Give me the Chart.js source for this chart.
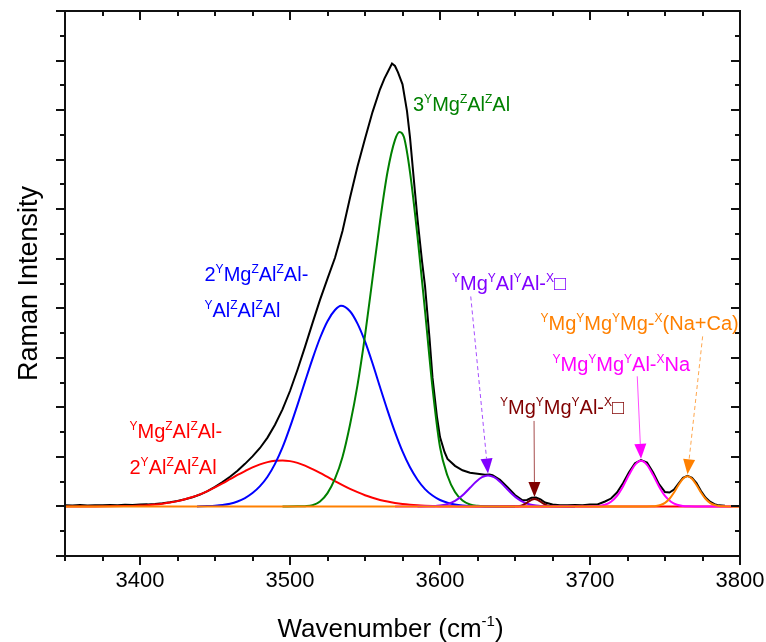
<!DOCTYPE html>
<html>
<head>
<meta charset="utf-8">
<script src="https://cdn.jsdelivr.net/npm/chart.js@4.4.1/dist/chart.umd.min.js"></script>
<style>
	html, body { margin: 0; padding: 0; background: #ffffff; }
	#wrap { width: 766px; height: 642px; }
</style>
</head>
<body>
<div id="wrap"><canvas id="raman-chart" width="766" height="642"></canvas></div>
<script>
// Measured OH-stretching spectrum
const spectrumX = [3350, 3355, 3360, 3365, 3370, 3375, 3380, 3385, 3390, 3395, 3400, 3405, 3410, 3415, 3420, 3425, 3430, 3435, 3440, 3445,
	3450, 3455, 3460, 3465, 3470, 3475, 3480, 3485, 3490, 3495, 3500, 3505, 3510, 3515, 3520, 3525, 3530, 3535, 3540, 3545,
	3550, 3555, 3560, 3563, 3565, 3568, 3570, 3572, 3575, 3578, 3580, 3583, 3585, 3588, 3590, 3593, 3595, 3598, 3600, 3603,
	3605, 3610, 3615, 3620, 3625, 3630, 3633, 3635, 3640, 3645, 3650, 3655, 3658, 3661, 3664, 3667, 3670, 3675, 3680, 3685,
	3690, 3695, 3700, 3705, 3710, 3714, 3718, 3722, 3726, 3730, 3734, 3738, 3742, 3746, 3750, 3753, 3756, 3759, 3762, 3765,
	3768, 3771, 3774, 3777, 3780, 3783, 3786, 3790];
const spectrumY = [25, 18, 28, 20, 26, 22, 30, 24, 32, 30, 38, 42, 52, 66, 86, 112, 145, 185, 240, 310,
	395, 490, 600, 720, 860, 1010, 1180, 1390, 1650, 1960, 2330, 2760, 3220, 3700, 4170, 4600, 5020, 5560, 6230, 6860,
	7420, 7960, 8420, 8640, 8760, 8940, 8890, 8760, 8520, 7980, 7450, 6450, 5800, 4950, 4450, 3400, 2600, 1800, 1400, 1100,
	960, 820, 730, 680, 660, 640, 645, 630, 540, 390, 230, 125, 130, 175, 180, 145, 80, 40, 25, 22,
	30, 26, 40, 40, 100, 160, 280, 470, 690, 870, 935, 885, 690, 450, 290, 280, 340, 460, 580, 620,
	580, 470, 310, 180, 95, 45, 22, 15];

// Fitted components
const redX = [3350, 3360, 3370, 3380, 3390, 3395, 3400, 3405, 3410, 3415, 3420, 3425, 3430, 3435, 3440, 3445, 3450, 3455, 3460, 3465,
	3470, 3475, 3480, 3485, 3490, 3495, 3500, 3505, 3510, 3515, 3520, 3525, 3530, 3535, 3540, 3545, 3550, 3555, 3560, 3565,
	3570, 3575, 3580, 3585, 3590, 3595, 3600, 3610, 3620, 3800];
const redY = [0, 0, 1, 3, 7, 11, 17, 26, 38, 55, 78, 108, 145, 190, 245, 310, 385, 465, 550, 635,
	715, 790, 850, 895, 922, 930, 915, 880, 825, 755, 677, 595, 513, 432, 356, 288, 226, 176, 132, 98,
	71, 50, 35, 24, 16, 10, 6, 2, 0, 0];

const blueX = [3438, 3445, 3450, 3455, 3460, 3465, 3470, 3475, 3480, 3485, 3490, 3495, 3500, 3505, 3510, 3515, 3520, 3525, 3530, 3534,
	3540, 3545, 3550, 3555, 3560, 3565, 3570, 3575, 3580, 3585, 3590, 3595, 3600, 3605, 3610, 3615, 3620, 3625, 3630, 3640];
const blueY = [0, 8, 16, 30, 55, 100, 170, 270, 410, 600, 860, 1190, 1600, 2050, 2520, 2980, 3400, 3740, 3965, 4050,
	3940, 3690, 3330, 2890, 2410, 1940, 1500, 1110, 790, 540, 350, 220, 130, 75, 40, 20, 9, 4, 1, 0];

const greenX = [3495, 3505, 3510, 3515, 3520, 3525, 3530, 3535, 3540, 3545, 3550, 3555, 3560, 3565, 3570, 3573, 3576, 3580, 3585, 3590,
	3595, 3600, 3605, 3610, 3615, 3620, 3625, 3630, 3640, 3650];
const greenY = [0, 2, 6, 24, 100, 270, 560, 1000, 1650, 2450, 3450, 4600, 5750, 6750, 7400, 7560, 7450, 6750, 5450, 3950,
	2400, 1200, 620, 290, 120, 40, 12, 3, 0, 0];

const violetX = [3585, 3592, 3596, 3600, 3604, 3608, 3612, 3616, 3620, 3624, 3628, 3632, 3636, 3640, 3644, 3648, 3652, 3656, 3660, 3664,
	3668, 3672, 3690];
const violetY = [0, 2, 6, 17, 39, 81, 152, 253, 376, 498, 591, 625, 591, 498, 376, 253, 152, 81, 39, 17,
	6, 2, 0];

const wineX = [3640, 3651, 3653, 3655, 3657, 3659, 3661, 3663, 3665, 3667, 3669, 3671, 3673, 3675, 3690];
const wineY = [0, 3, 9, 25, 55, 96, 134, 150, 134, 96, 55, 25, 9, 3, 0];

const magentaX = [3570, 3698, 3702, 3706, 3710, 3714, 3718, 3722, 3726, 3730, 3734, 3738, 3742, 3746, 3750, 3754, 3758, 3762, 3766, 3770,
	3795];
const magentaY = [0, 0, 3, 10, 34, 94, 213, 404, 638, 840, 920, 840, 638, 404, 213, 94, 34, 10, 3, 0,
	0];

const orangeX = [3350, 3738, 3741, 3744, 3747, 3750, 3753, 3756, 3759, 3762, 3765, 3768, 3771, 3774, 3777, 3780, 3783, 3786, 3789, 3792,
	3800];
const orangeY = [0, 0, 3, 9, 28, 72, 155, 282, 433, 560, 610, 560, 433, 282, 155, 72, 28, 9, 3, 0,
	0];

// Axis ticks
const xTickLabels = [3400, 3500, 3600, 3700, 3800];

const FONT = "'Liberation Sans', Arial, 'DejaVu Sans', sans-serif";

// Peak assignments: text lines, colour, left/baseline anchor in data units
const peakNotes = [
	{ lines: ['3^{Y}Mg^{Z}Al^{Z}Al'], color: '#008000', at: [3582, 7980] },
	{ lines: ['2^{Y}Mg^{Z}Al^{Z}Al-', '^{Y}Al^{Z}Al^{Z}Al'], color: '#0000FF', at: [3443, 4547] },
	{ lines: ['^{Y}Mg^{Z}Al^{Z}Al-', '2^{Y}Al^{Z}Al^{Z}Al'], color: '#FF0000', at: [3393, 1372] },
	{ lines: ['^{Y}Mg^{Y}Al^{Y}Al-^{X}\u25A1'], color: '#8000FF', at: [3608, 4374] },
	{ lines: ['^{Y}Mg^{Y}Mg^{Y}Mg-^{X}(Na+Ca)'], color: '#FF8000', at: [3667, 3568] },
	{ lines: ['^{Y}Mg^{Y}Mg^{Y}Al-^{X}Na'], color: '#FF00FF', at: [3675, 2734] },
	{ lines: ['^{Y}Mg^{Y}Mg^{Y}Al-^{X}\u25A1'], color: '#800000', at: [3640, 1861] },
];

// Arrows from labels down to the component maxima
const peakArrows = [
	{ from: [3620.5, 4238], xs: violetX, ys: violetY, color: '#8000FF', dashed: true },
	{ from: [3662.7, 1726], xs: wineX, ys: wineY, color: '#800000', dashed: false },
	{ from: [3731.5, 2627], xs: magentaX, ys: magentaY, color: '#FF00FF', dashed: false },
	{ from: [3775.1, 3433], xs: orangeX, ys: orangeY, color: '#FF8000', dashed: true },
];

let chart = null;

function toPoints(xs, ys) {
	return xs.map((x, i) => ({ x: x, y: ys[i] }));
}

/**
 * Draw text with ^{...} superscript runs
 */
function drawRich(ctx, text, x, y, size, supSize, rise, align) {
	const runs = text.split(/(\^\{[^}]*\})/).filter(p => p.length).map(p =>
		p.startsWith('^{') ? { s: p.slice(2, -1), sup: true } : { s: p, sup: false });
	let width = 0;
	runs.forEach(r => {
		ctx.font = `${r.sup ? supSize : size}px ${FONT}`;
		r.w = ctx.measureText(r.s).width;
		width += r.w;
	});
	let cx = align === 'center' ? x - width / 2 : x;
	ctx.textAlign = 'left';
	ctx.textBaseline = 'alphabetic';
	runs.forEach(r => {
		ctx.font = `${r.sup ? supSize : size}px ${FONT}`;
		ctx.fillText(r.s, cx, r.sup ? y - rise : y);
		cx += r.w;
	});
}

function drawArrow(ctx, x0, y0, x1, y1, color, dashed) {
	const ang = Math.atan2(y1 - y0, x1 - x0);
	const headLen = 15;
	const headHalf = 6;
	const bx = x1 - headLen * Math.cos(ang);
	const by = y1 - headLen * Math.sin(ang);

	ctx.save();
	ctx.strokeStyle = color;
	ctx.globalAlpha = 0.7;
	ctx.lineWidth = 1;
	ctx.setLineDash(dashed ? [4, 3] : []);
	ctx.beginPath();
	ctx.moveTo(x0, y0);
	ctx.lineTo(bx, by);
	ctx.stroke();
	ctx.setLineDash([]);
	ctx.globalAlpha = 1;

	ctx.fillStyle = color;
	ctx.beginPath();
	ctx.moveTo(x1, y1);
	ctx.lineTo(bx + headHalf * Math.sin(ang), by - headHalf * Math.cos(ang));
	ctx.lineTo(bx - headHalf * Math.sin(ang), by + headHalf * Math.cos(ang));
	ctx.closePath();
	ctx.fill();
	ctx.restore();
}

/**
 * Frame, mirrored tick marks, axis titles and peak labels
 */
const decorPlugin = {
	id: 'decor',
	afterDraw(c) {
		const ctx = c.ctx;
		const xs = c.scales.x;
		const ys = c.scales.y;
		const a = c.chartArea;

		ctx.save();
		ctx.strokeStyle = '#111111';
		ctx.lineWidth = 2;

		// x ticks: out at the bottom, in at the top
		for (let v = 3350; v <= 3800; v += 25) {
			const px = Math.round(xs.getPixelForValue(v));
			const len = v % 100 === 0 ? 9 : 5;
			ctx.beginPath();
			ctx.moveTo(px, a.bottom);
			ctx.lineTo(px, a.bottom + len);
			ctx.moveTo(px, a.top);
			ctx.lineTo(px, a.top + len);
			ctx.stroke();
		}
		// y ticks: out on the left, in on the right
		for (let v = -1000; v <= 10000; v += 500) {
			const py = Math.round(ys.getPixelForValue(v));
			const len = v % 1000 === 0 ? 9 : 5;
			ctx.beginPath();
			ctx.moveTo(a.left - len, py);
			ctx.lineTo(a.left, py);
			ctx.moveTo(a.right - len, py);
			ctx.lineTo(a.right, py);
			ctx.stroke();
		}
		ctx.strokeRect(a.left, a.top, a.right - a.left, a.bottom - a.top);

		// axis titles
		ctx.fillStyle = '#000000';
		drawRich(ctx, 'Wavenumber (cm^{-1})', (a.left + a.right) / 2 - 12, 637, 26, 15, 11, 'center');
		ctx.save();
		ctx.translate(37, (a.top + a.bottom) / 2);
		ctx.rotate(-Math.PI / 2);
		drawRich(ctx, 'Raman Intensity', 0, 0, 27, 15, 11, 'center');
		ctx.restore();

		// peak labels
		peakNotes.forEach(n => {
			ctx.fillStyle = n.color;
			const px = xs.getPixelForValue(n.at[0]);
			const py = ys.getPixelForValue(n.at[1]);
			n.lines.forEach((line, i) => drawRich(ctx, line, px, py + i * 35.5, 20, 12, 8, 'left'));
		});

		// arrows ending on each component maximum
		peakArrows.forEach(ar => {
			let k = 0;
			ar.ys.forEach((v, i) => { if (v > ar.ys[k]) k = i; });
			const x0 = xs.getPixelForValue(ar.from[0]);
			const y0 = ys.getPixelForValue(ar.from[1]);
			const x1 = xs.getPixelForValue(ar.xs[k]);
			const y1 = ys.getPixelForValue(ar.ys[k]) - 2;
			drawArrow(ctx, x0, y0, x1, y1, ar.color, ar.dashed);
		});
		ctx.restore();
	}
};

function lineSet(label, xs, ys, color, order, smooth) {
	return {
		label: label,
		data: toPoints(xs, ys),
		borderColor: color,
		backgroundColor: color,
		borderWidth: 2,
		pointRadius: 0,
		fill: false,
		order: order,
		tension: 0,
		cubicInterpolationMode: smooth ? 'monotone' : 'default',
	};
}

/**
 * Initialize Chart.js
 */
function initChart() {
	const ctx = document.getElementById('raman-chart').getContext('2d');

	chart = new Chart(ctx, {
		type: 'line',
		data: {
			datasets: [
				lineSet('Spectrum', spectrumX, spectrumY, '#000000', 8, false),
				lineSet('Red', redX, redY, '#FF0000', 7, true),
				lineSet('Blue', blueX, blueY, '#0000FF', 6, true),
				lineSet('Green', greenX, greenY, '#008000', 5, true),
				lineSet('Violet', violetX, violetY, '#8000FF', 4, true),
				lineSet('Wine', wineX, wineY, '#800000', 3, true),
				lineSet('Magenta', magentaX, magentaY, '#FF00FF', 2, true),
				lineSet('Orange', orangeX, orangeY, '#FF8000', 1, true),
			]
		},
		options: {
			responsive: false,
			animation: false,
			layout: { padding: { top: 11, right: 26, left: 0, bottom: 0 } },
			scales: {
				x: {
					type: 'linear',
					min: 3350,
					max: 3800,
					afterFit: (s) => { s.height = 86; s.paddingLeft = 0; s.paddingRight = 0; },
					grid: { display: false, drawTicks: false },
					border: { display: false },
					ticks: {
						stepSize: 25,
						autoSkip: false,
						maxRotation: 0,
						padding: 12,
						color: '#000000',
						font: { family: FONT, size: 22 },
						callback: (v) => xTickLabels.includes(v) ? String(v) : '',
					}
				},
				y: {
					min: -1000,
					max: 10000,
					afterFit: (s) => { s.width = 65; },
					grid: { display: false, drawTicks: false },
					border: { display: false },
					ticks: { display: false, stepSize: 500 }
				}
			},
			plugins: {
				legend: { display: false },
				tooltip: { enabled: false },
			}
		},
		plugins: [decorPlugin]
	});
}

document.addEventListener('DOMContentLoaded', initChart);
</script>
</body>
</html>
